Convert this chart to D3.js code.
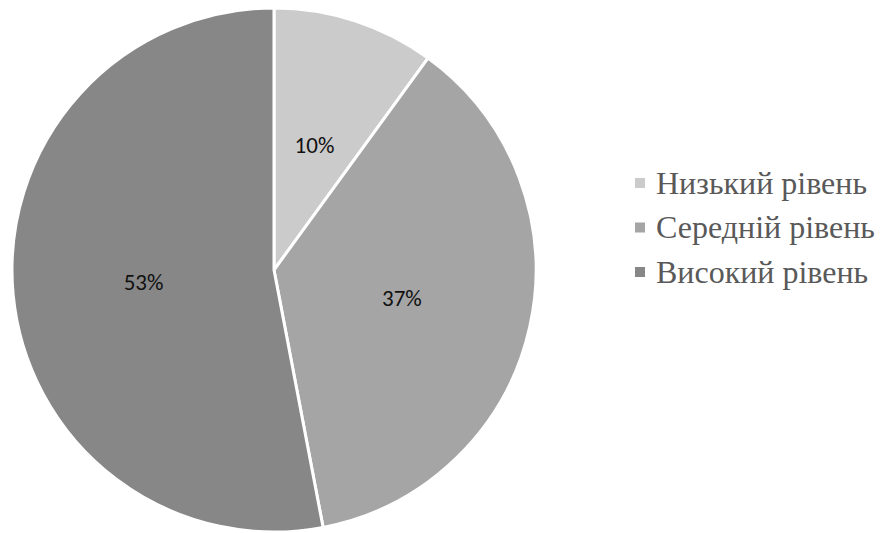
<!DOCTYPE html>
<html>
<head>
<meta charset="utf-8">
<script src="https://cdn.jsdelivr.net/npm/d3@7"></script>
<style>
  html, body { margin: 0; padding: 0; background: #fff; }
  svg { display: block; }
</style>
</head>
<body>
<svg id="chart" width="888" height="533"></svg>
<script>
// Distribution of levels (percent)
const categories = ["Низький рівень", "Середній рівень", "Високий рівень"];
const values = [10, 37, 53];
const colors = ["#cbcbcb", "#a5a5a5", "#878787"];

const svg = d3.select("#chart");
const cx = 274, cy = 270, radius = 262;

const pie = d3.pie().sort(null).value(d => d)(values);
const arc = d3.arc().innerRadius(0).outerRadius(radius);
const labelArc = d3.arc().innerRadius(radius * 0.5).outerRadius(radius * 0.5);

const g = svg.append("g").attr("transform", `translate(${cx},${cy})`);

g.selectAll("path")
  .data(pie)
  .join("path")
  .attr("d", arc)
  .attr("fill", (d, i) => colors[i])
  .attr("stroke", "#ffffff")
  .attr("stroke-width", 3)
  .attr("stroke-linejoin", "round");

g.selectAll("text.lbl")
  .data(pie)
  .join("text")
  .attr("class", "lbl")
  .attr("transform", d => { const c = labelArc.centroid(d); return `translate(${c[0]},${c[1] + 2})`; })
  .attr("text-anchor", "middle")
  .attr("dominant-baseline", "middle")
  .attr("font-family", "Carlito, Lato, 'Open Sans', sans-serif")
  .attr("font-size", 23)
  .attr("fill", "#111")
  .text(d => d.data + "%");

// Legend
const legend = svg.append("g").attr("transform", "translate(635,0)");
const rows = legend.selectAll("g")
  .data(categories)
  .join("g")
  .attr("transform", (d, i) => `translate(0,${183 + i * 44.5})`);

rows.append("rect")
  .attr("x", 0).attr("y", -5)
  .attr("width", 10).attr("height", 10)
  .attr("fill", (d, i) => colors[i]);

rows.append("text")
  .attr("x", 21)
  .attr("y", 10.5)
  .attr("font-family", "'Liberation Serif', 'Times New Roman', serif")
  .attr("font-size", 32)
  .attr("fill", "#595959")
  .text(d => d);
</script>
</body>
</html>
